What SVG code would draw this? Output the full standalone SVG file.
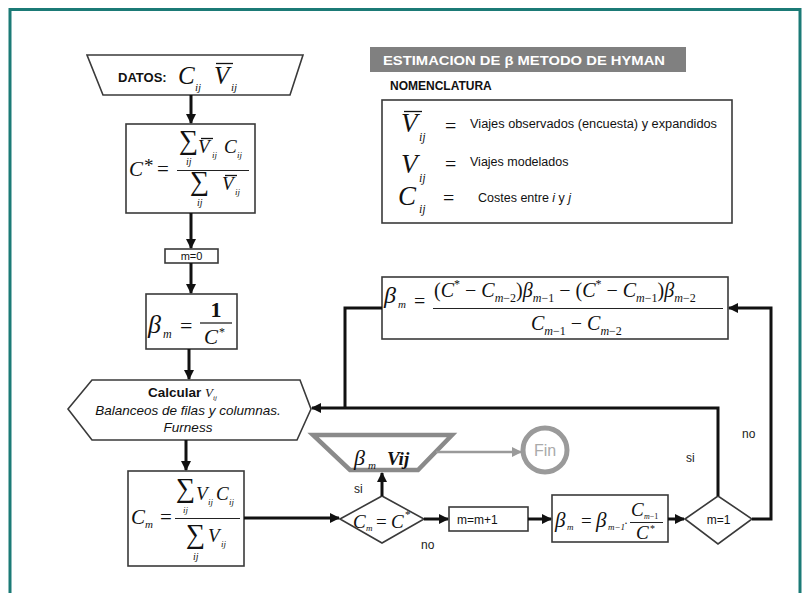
<svg xmlns="http://www.w3.org/2000/svg" width="805" height="593" viewBox="0 0 805 593">
<style>
.frame{fill:#fff;stroke:#1b7a76;stroke-width:3}
.box{fill:#fff;stroke:#3a3a3a;stroke-width:1.6}
.gbox{fill:#fff;stroke:#8a8a8a;stroke-width:4.5}
.conn{fill:none;stroke:#111;stroke-width:3}
.gconn{fill:none;stroke:#9a9a9a;stroke-width:2.5}
.m{font-family:"Liberation Serif",serif;font-style:italic;fill:#111}
.r{font-family:"Liberation Serif",serif;fill:#111}
.s{font-family:"Liberation Sans",Arial,sans-serif;fill:#111}
.b{font-weight:bold}
.lbl{font-family:"Liberation Sans",Arial,sans-serif;font-size:12px;fill:#222}
.ol{stroke:#111;stroke-width:1.3}
</style>
<defs>
<marker id="ah" viewBox="0 0 10 10" refX="9" refY="5" markerWidth="10" markerHeight="10" markerUnits="userSpaceOnUse" orient="auto">
<path d="M0,0 L10,5 L0,10 z" fill="#111"/>
</marker>
<marker id="gah" viewBox="0 0 10 10" refX="9" refY="5" markerWidth="10" markerHeight="10" markerUnits="userSpaceOnUse" orient="auto">
<path d="M0,0 L10,5 L0,10 z" fill="#9a9a9a"/>
</marker>
</defs>
<rect class="frame" x="10" y="9.5" width="790" height="600"/>

<g id="title">
<rect x="370" y="47" width="316" height="25" fill="#808080"/>
<text x="383" y="65" class="s b" font-size="13.5" fill="#fff" style="fill:#fff" textLength="282" lengthAdjust="spacingAndGlyphs">ESTIMACION DE β METODO DE HYMAN</text>
<text x="390" y="90" class="s b" font-size="12">NOMENCLATURA</text>
</g>

<g id="nomenclatura">
<rect class="box" x="382" y="100" width="350" height="123"/>
<text x="401" y="132" class="m" font-size="27">V</text>
<line class="ol" x1="404" y1="111.5" x2="422" y2="111.5"/>
<text x="419" y="141" class="m" font-size="12">ij</text>
<text x="445" y="133" class="r" font-size="20">=</text>
<text x="470" y="128" class="s" font-size="12.5" textLength="247" lengthAdjust="spacingAndGlyphs">Viajes observados (encuesta) y expandidos</text>
<text x="401" y="173" class="m" font-size="27">V</text>
<text x="419" y="182" class="m" font-size="12">ij</text>
<text x="445" y="171" class="r" font-size="20">=</text>
<text x="470" y="166" class="s" font-size="12.5">Viajes modelados</text>
<text x="398" y="205" class="m" font-size="27">C</text>
<text x="419" y="213" class="m" font-size="12">ij</text>
<text x="443" y="205" class="r" font-size="20">=</text>
<text x="478" y="202" class="s" font-size="12.5">Costes entre <tspan font-style="italic">i</tspan> y <tspan font-style="italic">j</tspan></text>
</g>

<g id="datos">
<path class="box" d="M87,55 L303,55 L290,95 L103,95 Z"/>
<text x="118" y="82" class="s b" font-size="13">DATOS:</text>
<text x="178" y="84" class="m" font-size="25">C</text>
<text x="195" y="91" class="m" font-size="11">ij</text>
<text x="214" y="84" class="m" font-size="25">V</text>
<line class="ol" x1="216" y1="63.5" x2="233" y2="63.5"/>
<text x="231" y="91" class="m" font-size="11">ij</text>
</g>

<g id="cstar">
<rect class="box" x="126" y="124" width="129" height="89"/>
<text x="129" y="176" class="m" font-size="21">C</text>
<text x="144" y="172" class="r" font-size="19">*</text>
<text x="157" y="176" class="r" font-size="21">=</text>
<text x="179" y="149" class="r" font-size="27">∑</text>
<text x="186" y="165" class="m" font-size="10">ij</text>
<text x="198" y="153" class="m" font-size="19">V</text>
<line class="ol" x1="201" y1="138.5" x2="213" y2="138.5"/>
<text x="212" y="158" class="m" font-size="9">ij</text>
<text x="224" y="153" class="m" font-size="19">C</text>
<text x="237" y="158" class="m" font-size="9">ij</text>
<line x1="177" y1="170.5" x2="249" y2="170.5" stroke="#222" stroke-width="1.2"/>
<text x="190" y="190" class="r" font-size="27">∑</text>
<text x="197" y="206" class="m" font-size="10">ij</text>
<text x="222" y="190" class="m" font-size="19">V</text>
<line class="ol" x1="225" y1="175.5" x2="237" y2="175.5"/>
<text x="235" y="195" class="m" font-size="9">ij</text>
</g>

<g id="m0">
<rect class="box" x="165" y="249" width="53" height="14"/>
<text x="191.5" y="260" class="s" font-size="11" text-anchor="middle">m=0</text>
</g>

<g id="beta0">
<rect class="box" x="146" y="294" width="91" height="55"/>
<text x="148" y="333" class="m" font-size="26">β</text>
<text x="163" y="338" class="m" font-size="12">m</text>
<text x="180" y="333" class="r" font-size="22">=</text>
<text x="216" y="317" class="r" font-size="22" font-weight="bold" text-anchor="middle">1</text>
<line x1="200" y1="323" x2="232" y2="323" stroke="#222" stroke-width="1.3"/>
<text x="204" y="344" class="m" font-size="21">C</text>
<text x="219" y="336" class="r" font-size="12">*</text>
</g>

<g id="calcular">
<path class="box" d="M92,380 L300,380 L311,409 L297,440 L92,440 L68,409 Z"/>
<text x="148" y="397" class="s b" font-size="13.5">Calcular</text>
<text x="205" y="397" class="m" font-size="13">V</text>
<text x="213" y="400" class="m" font-size="7">ij</text>
<text x="188" y="415" class="s" font-size="13.5" font-style="italic" text-anchor="middle">Balanceos de filas y columnas.</text>
<text x="188" y="432" class="s" font-size="13.5" font-style="italic" text-anchor="middle">Furness</text>
</g>

<g id="cm">
<rect class="box" x="128" y="471" width="116" height="95"/>
<text x="131" y="524" class="m" font-size="21">C</text>
<text x="145" y="528" class="m" font-size="11">m</text>
<text x="160" y="524" class="r" font-size="21">=</text>
<text x="176" y="497" class="r" font-size="27">∑</text>
<text x="183" y="513" class="m" font-size="9">ij</text>
<text x="196" y="500" class="m" font-size="19">V</text>
<text x="208" y="505" class="m" font-size="9">ij</text>
<text x="216" y="500" class="m" font-size="19">C</text>
<text x="229" y="505" class="m" font-size="9">ij</text>
<line x1="175" y1="518.5" x2="240" y2="518.5" stroke="#222" stroke-width="1.2"/>
<text x="186" y="543" class="r" font-size="27">∑</text>
<text x="193" y="560" class="m" font-size="10">ij</text>
<text x="208" y="542" class="m" font-size="19">V</text>
<text x="221" y="547" class="m" font-size="9">ij</text>
</g>

<g id="cond1">
<path class="box" d="M340,519 L382,496 L424,519 L382,543 Z"/>
<text x="353" y="528" class="m" font-size="19">C</text>
<text x="366" y="531" class="m" font-size="9">m</text>
<text x="376" y="528" class="r" font-size="19">=</text>
<text x="391" y="528" class="m" font-size="19">C</text>
<text x="405" y="518" class="r" font-size="11">*</text>
</g>

<g id="salida">
<path class="gbox" d="M313,435 L452,435 L418,470 L350,470 Z"/>
<text x="354" y="465" class="m" font-size="22">β</text>
<text x="368" y="469" class="m" font-size="11">m</text>
<text x="387" y="465" class="r" font-size="19" font-weight="bold" font-style="italic">Vij</text>
</g>

<g id="fin">
<circle cx="545" cy="450" r="22" fill="#fff" stroke="#9a9a9a" stroke-width="5"/>
<text x="545" y="456" class="s" font-size="16" fill="#aaa" style="fill:#aaa" text-anchor="middle">Fin</text>
</g>

<g id="mplus">
<rect class="box" x="449" y="507" width="79" height="24"/>
<text x="457" y="524" class="s" font-size="12">m=m+1</text>
</g>

<g id="beta1">
<rect class="box" x="552" y="495" width="116" height="47"/>
<text x="555" y="527" class="m" font-size="21">β</text>
<text x="567" y="530" class="m" font-size="9">m</text>
<text x="581" y="527" class="r" font-size="19">=</text>
<text x="596" y="527" class="m" font-size="21">β</text>
<text x="608" y="530" class="m" font-size="9">m−1</text>
<text x="624" y="527" class="r" font-size="12">·</text>
<text x="631" y="516" class="m" font-size="19">C</text>
<text x="644" y="519" class="r" font-size="8"><tspan font-style="italic">m</tspan>−1</text>
<line x1="630" y1="522.5" x2="663" y2="522.5" stroke="#222" stroke-width="1.2"/>
<text x="636" y="539" class="m" font-size="19">C</text>
<text x="650" y="532" class="r" font-size="10">*</text>
</g>

<g id="cond2">
<path class="box" d="M685,519 L718,496 L752,519 L718,544 Z"/>
<text x="718.5" y="524" class="s" font-size="12" text-anchor="middle">m=1</text>
</g>

<g id="betaM">
<rect class="box" x="382" y="277" width="346" height="62"/>
<text x="384" y="303" class="m" font-size="24">β</text>
<text x="398" y="308" class="m" font-size="11">m</text>
<text x="414" y="308" class="r" font-size="20">=</text>
<text x="434" y="297" class="m" font-size="20"><tspan font-style="normal">(</tspan>C<tspan font-size="12" dy="-9" font-style="normal">*</tspan><tspan dy="9" font-style="normal"> − </tspan>C<tspan font-size="12" dy="5">m</tspan><tspan font-size="12" font-style="normal">−2</tspan><tspan dy="-5" font-style="normal">)</tspan>β<tspan font-size="12" dy="5">m</tspan><tspan font-size="12" font-style="normal">−1</tspan><tspan dy="-5" font-style="normal"> − (</tspan>C<tspan font-size="12" dy="-9" font-style="normal">*</tspan><tspan dy="9" font-style="normal"> − </tspan>C<tspan font-size="12" dy="5">m</tspan><tspan font-size="12" font-style="normal">−1</tspan><tspan dy="-5" font-style="normal">)</tspan>β<tspan font-size="12" dy="5">m</tspan><tspan font-size="12" font-style="normal">−2</tspan></text>
<line x1="433" y1="308.5" x2="723" y2="308.5" stroke="#222" stroke-width="1.2"/>
<text x="531" y="330" class="m" font-size="20">C<tspan font-size="12" dy="5">m</tspan><tspan font-size="12" font-style="normal">−1</tspan><tspan dy="-5" font-style="normal"> − </tspan>C<tspan font-size="12" dy="5">m</tspan><tspan font-size="12" font-style="normal">−2</tspan></text>
</g>

<g id="connectors">
<path class="conn" d="M191,95 L191,123" marker-end="url(#ah)"/>
<path class="conn" d="M191,213 L191,248" marker-end="url(#ah)"/>
<path class="conn" d="M191,263 L191,293" marker-end="url(#ah)"/>
<path class="conn" d="M189,349 L189,379" marker-end="url(#ah)"/>
<path class="conn" d="M186,440 L186,470" marker-end="url(#ah)"/>
<path class="conn" d="M244,518 L339,518" marker-end="url(#ah)"/>
<path class="conn" d="M382,496 L382,473" marker-end="url(#ah)"/>
<path class="conn" d="M424,519 L448,519" marker-end="url(#ah)"/>
<path class="conn" d="M528,519 L551,519" marker-end="url(#ah)"/>
<path class="conn" d="M668,519 L684,519" marker-end="url(#ah)"/>
<path class="conn" d="M718,496 L718,408 L312,408" marker-end="url(#ah)"/>
<path class="conn" d="M382,308 L345,308 L345,408"/>
<path class="conn" d="M752,519 L771,519 L771,308 L729,308" marker-end="url(#ah)"/>
<path class="gconn" d="M436,452 L521,452" marker-end="url(#gah)"/>
<text class="lbl" x="354" y="493">si</text>
<text class="lbl" x="421" y="549">no</text>
<text class="lbl" x="686" y="462">si</text>
<text class="lbl" x="742" y="438">no</text>
</g>
</svg>
